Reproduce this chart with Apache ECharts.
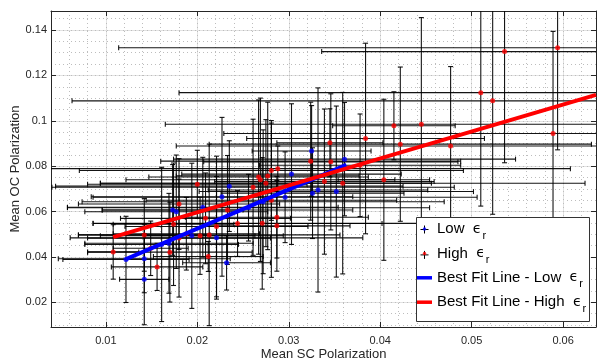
<!DOCTYPE html>
<html><head><meta charset="utf-8">
<script src="https://cdn.jsdelivr.net/npm/echarts@6/dist/echarts.min.js"></script>
<style>html,body{margin:0;padding:0;background:#fff}#c{width:597px;height:362px}</style>
</head><body><div id="c"></div>
<script>
// ---- data ----
const lowX    = [0.0122,0.0142,0.0142,0.0161,0.0169,0.0173,0.0194,0.0206,0.0221,0.0232,0.0227,0.0235,0.0256,0.0272,0.0296,0.0303,0.0325,0.0326,0.0332,0.0352,0.0361,0.0177];
const lowY    = [0.0389,0.0392,0.0301,0.0455,0.0460,0.0607,0.0493,0.0619,0.0484,0.0374,0.0665,0.0712,0.0617,0.0643,0.0663,0.0765,0.0867,0.0681,0.0695,0.0688,0.0831,0.0599];
const lowXErr = [0.0069,0.0094,0.0027,0.0084,0.0092,0.0077,0.0100,0.0148,0.0160,0.0048,0.0143,0.0190,0.0198,0.0198,0.0210,0.0120,0.0065,0.0100,0.0120,0.0150,0.0187,0.0100];
const lowYErr = [0.0190,0.0150,0.0200,0.0340,0.0220,0.0200,0.0320,0.0220,0.0270,0.0120,0.0350,0.0200,0.0147,0.0317,0.0200,0.0310,0.0200,0.0200,0.0450,0.0377,0.0250,0.0250];

const highX    = [0.0108,0.0142,0.0149,0.0156,0.0170,0.0174,0.0180,0.0180,0.0188,0.0200,0.0203,0.0209,0.0212,0.0213,0.0221,0.0233,0.0244,0.0261,0.0267,0.0269,0.0271,0.0275,0.0277,0.0281,0.0281,0.0287,0.0287,0.0288,0.0324,0.0339,0.0345,0.0346,0.0359,0.0378,0.0384,0.0404,0.0415,0.0422,0.0445,0.0477,0.0510,0.0523,0.0536,0.0589,0.0594];
const highY    = [0.0422,0.0497,0.0438,0.0356,0.0421,0.0544,0.0483,0.0633,0.0502,0.0720,0.0493,0.0570,0.0402,0.0497,0.0534,0.0607,0.0547,0.0707,0.0752,0.0740,0.0548,0.0725,0.0757,0.0781,0.0650,0.0575,0.0537,0.0789,0.0822,0.0732,0.0903,0.0819,0.0725,0.0804,0.0922,0.0740,0.0978,0.0897,0.0985,0.0889,0.1124,0.1088,0.1305,0.0944,0.1322];
const highXErr = [0.0028,0.0072,0.0041,0.0050,0.0090,0.0066,0.0100,0.0110,0.0080,0.0120,0.0060,0.0093,0.0060,0.0143,0.0100,0.0137,0.0158,0.0220,0.0120,0.0147,0.0185,0.0181,0.0100,0.0210,0.0137,0.0100,0.0080,0.0320,0.0164,0.0120,0.0058,0.0139,0.0265,0.0110,0.0130,0.0050,0.0067,0.0209,0.0280,0.0300,0.0330,0.0460,0.0200,0.0360,0.0480];
const highYErr = [0.0120,0.0160,0.0120,0.0104,0.0220,0.0270,0.0260,0.0200,0.0160,0.0150,0.0170,0.0200,0.0066,0.0400,0.0310,0.0240,0.0145,0.0300,0.0340,0.0360,0.0290,0.0280,0.0325,0.0220,0.0340,0.0180,0.0200,0.0100,0.0260,0.0320,0.0150,0.0300,0.0400,0.0226,0.0420,0.0355,0.0150,0.0340,0.0470,0.0350,0.0500,0.0500,0.0490,0.0450,0.0450];

const fitLowX  = [0.0122, 0.0363];
const fitLowY  = [0.0390, 0.0806];
const fitHighX = [0.0108, 0.0636];
const fitHighY = [0.0487, 0.1114];

const seriesNames = ['Low  \u03f5r', 'High  \u03f5r', 'Best Fit Line - Low  \u03f5r', 'Best Fit Line - High  \u03f5r'];
const xLabel = 'Mean SC Polarization';
const yLabel = 'Mean OC Polarization';

// ---- build ----
const FONT = 'Liberation Sans, Arial, Helvetica, sans-serif';
const AX = '#262626';
function pack(xs, ys, xe, ye) { return xs.map((x, i) => [x, ys[i], xe[i], ye[i]]); }
function pts(xs, ys) { return xs.map((x, i) => [x, ys[i]]); }

function errRender(params, api) {
  const x = api.value(0), y = api.value(1), xe = api.value(2), ye = api.value(3);
  const c = api.coord([x, y]);
  const l = api.coord([x - xe, y]), r = api.coord([x + xe, y]);
  const t = api.coord([x, y + ye]), b = api.coord([x, y - ye]);
  const cap = 2.5;
  const style = { stroke: '#000', lineWidth: 1.1, opacity: 0.92 };
  const ln = (x1, y1, x2, y2) => ({ type: 'line', shape: { x1, y1, x2, y2 }, style });
  return { type: 'group', children: [
    ln(l[0], c[1], r[0], c[1]),
    ln(l[0], c[1] - cap, l[0], c[1] + cap),
    ln(r[0], c[1] - cap, r[0], c[1] + cap),
    ln(c[0], t[1], c[0], b[1]),
    ln(c[0] - cap, t[1], c[0] + cap, t[1]),
    ln(c[0] - cap, b[1], c[0] + cap, b[1])
  ]};
}

const xMin = 0.004, xMax = 0.0636, yMin = 0.0091, yMax = 0.1484;
const majorGrid = { show: true, lineStyle: { color: '#e2e2e2', width: 1 } };
const minorGrid = { show: true, lineStyle: { color: '#bdbdbd', width: 1, type: [1, 3] } };
const hidden = { axisLine: { show: false }, axisTick: { show: false }, axisLabel: { show: false } };

const chart = echarts.init(document.getElementById('c'), null, { renderer: 'canvas' });
chart.setOption({
  animation: false,
  backgroundColor: '#fff',
  grid: { left: 51, right: 1, top: 11, bottom: 35, containLabel: false, outerBoundsMode: 'none' },
  xAxis: [
    { type: 'value', position: 'bottom', min: xMin, max: xMax, minInterval: 0.01, maxInterval: 0.01,
      axisLine: { show: true, lineStyle: { color: AX, width: 1 } },
      axisTick: { show: true, inside: true, length: 5, lineStyle: { color: AX } },
      axisLabel: { show: true, color: AX, fontFamily: FONT, fontSize: 11, margin: 8, showMinLabel: false, showMaxLabel: false },
      splitLine: majorGrid,
      name: xLabel, nameLocation: 'middle', nameGap: 21, nameMoveOverlap: false,
      nameTextStyle: { color: AX, fontFamily: FONT, fontSize: 13 } },
    { type: 'value', position: 'top', min: xMin, max: xMax, minInterval: 0.01, maxInterval: 0.01,
      axisLine: { show: true, lineStyle: { color: AX, width: 1 } },
      axisTick: { show: true, inside: true, length: 5, lineStyle: { color: AX } },
      axisLabel: { show: false }, splitLine: { show: false } },
    Object.assign({ type: 'value', min: xMin, max: xMax, minInterval: 0.002, maxInterval: 0.002, splitLine: minorGrid }, hidden)
  ],
  yAxis: [
    { type: 'value', position: 'left', min: yMin, max: yMax, minInterval: 0.02, maxInterval: 0.02,
      axisLine: { show: true, lineStyle: { color: AX, width: 1 } },
      axisTick: { show: true, inside: true, length: 5, lineStyle: { color: AX } },
      axisLabel: { show: true, color: AX, fontFamily: FONT, fontSize: 11, margin: 4, showMinLabel: false, showMaxLabel: false },
      splitLine: majorGrid,
      name: yLabel, nameLocation: 'middle', nameGap: 29, nameMoveOverlap: false,
      nameTextStyle: { color: AX, fontFamily: FONT, fontSize: 13 } },
    { type: 'value', position: 'right', min: yMin, max: yMax, minInterval: 0.02, maxInterval: 0.02,
      axisLine: { show: true, lineStyle: { color: AX, width: 1 } },
      axisTick: { show: true, inside: true, length: 5, lineStyle: { color: AX } },
      axisLabel: { show: false }, splitLine: { show: false } },
    Object.assign({ type: 'value', min: yMin, max: yMax, minInterval: 0.005, maxInterval: 0.005, splitLine: minorGrid }, hidden)
  ],
  legend: {
    orient: 'vertical', left: 417, top: 217, padding: 0, itemGap: 0.4, itemWidth: 15, itemHeight: 3.5, z: 200,
    selectedMode: false,
    data: [
      { name: seriesNames[0], icon: 'circle' },
      { name: seriesNames[1], icon: 'circle' },
      { name: seriesNames[2], icon: 'rect' },
      { name: seriesNames[3], icon: 'rect' }
    ],
    formatter: n => n.replace('\u03f5r', '{e|\u03f5}{r|r}'),
    textStyle: { color: '#000', fontFamily: FONT, fontSize: 15, lineHeight: 18,
      rich: {
        e: { fontFamily: 'DejaVu Sans', fontSize: 14, color: '#000', lineHeight: 18 },
        r: { fontFamily: FONT, fontSize: 11, color: '#000', lineHeight: 12, padding: [13, 0, 0, 1] }
      } }
  },
  graphic: { elements: [
    { type: 'rect', z: 100, shape: { x: 416.5, y: 217.5, width: 173, height: 104 },
      style: { fill: '#fff', stroke: '#333', lineWidth: 1 } },
    { type: 'group', z: 101, children: [
      { type: 'line', z: 101, shape: { x1: 420.5, y1: 229.5, x2: 428.5, y2: 229.5 }, style: { stroke: '#000', lineWidth: 1 } },
      { type: 'line', z: 101, shape: { x1: 424.5, y1: 225.5, x2: 424.5, y2: 233.5 }, style: { stroke: '#000', lineWidth: 1 } },
      { type: 'line', z: 101, shape: { x1: 420.5, y1: 254.9, x2: 428.5, y2: 254.9 }, style: { stroke: '#000', lineWidth: 1 } },
      { type: 'line', z: 101, shape: { x1: 424.5, y1: 250.9, x2: 424.5, y2: 258.9 }, style: { stroke: '#000', lineWidth: 1 } }
    ] }
  ] },
  series: [
    { type: 'custom', name: 'lowErr', renderItem: errRender, data: pack(lowX, lowY, lowXErr, lowYErr),
      encode: { x: 0, y: 1 }, clip: true, z: 2, silent: true },
    { type: 'custom', name: 'highErr', renderItem: errRender, data: pack(highX, highY, highXErr, highYErr),
      encode: { x: 0, y: 1 }, clip: true, z: 2, silent: true },
    { type: 'scatter', name: seriesNames[0], data: pts(lowX, lowY), symbolSize: 5,
      itemStyle: { color: '#0000ff' }, z: 3, clip: true },
    { type: 'scatter', name: seriesNames[1], data: pts(highX, highY), symbolSize: 5,
      itemStyle: { color: '#ff0000' }, z: 3, clip: true },
    { type: 'line', name: seriesNames[2], data: pts(fitLowX, fitLowY), showSymbol: false, symbol: 'none',
      lineStyle: { color: '#0000ff', width: 4 }, itemStyle: { color: '#0000ff' }, z: 4, clip: true },
    { type: 'line', name: seriesNames[3], data: pts(fitHighX, fitHighY), showSymbol: false, symbol: 'none',
      lineStyle: { color: '#ff0000', width: 4 }, itemStyle: { color: '#ff0000' }, z: 5, clip: true }
  ]
});
</script></body></html>
